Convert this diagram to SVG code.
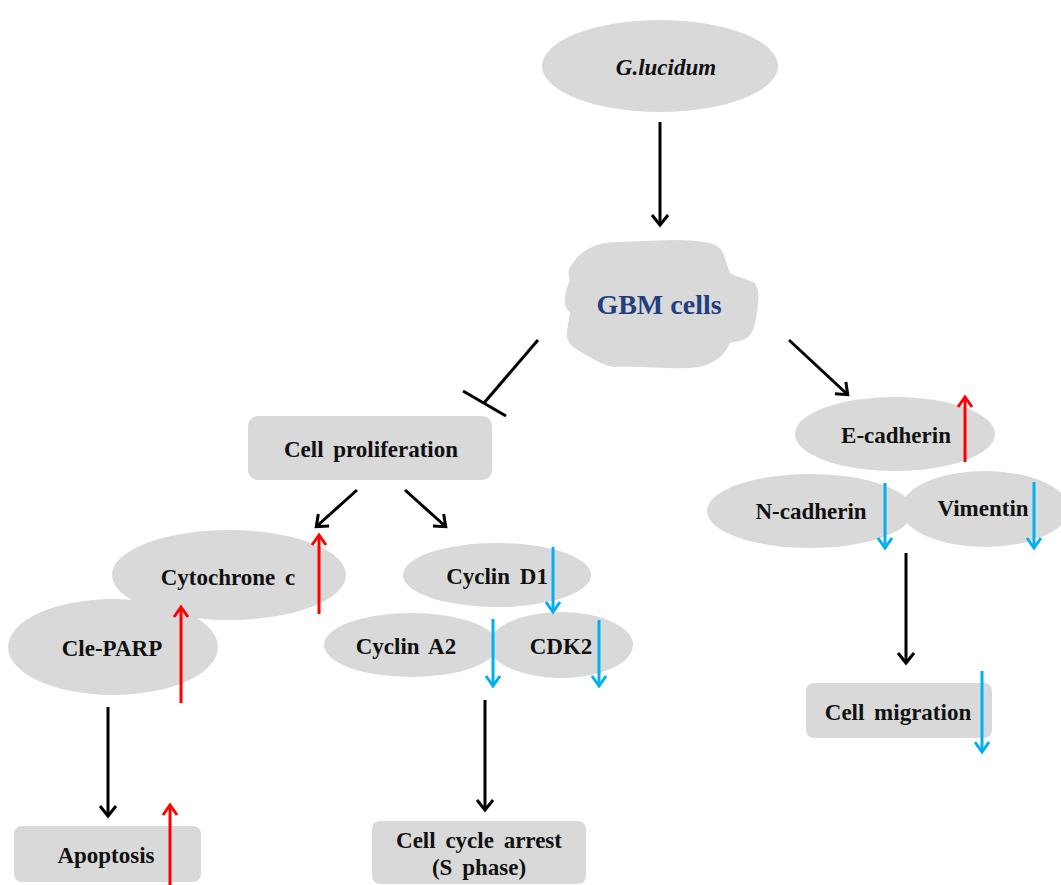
<svg xmlns="http://www.w3.org/2000/svg" width="1061" height="885" viewBox="0 0 1061 885">
<style>
.sh{fill:#d9d9d9;stroke:none}
.t{font-family:"Liberation Serif","Times New Roman",serif;font-weight:bold;font-size:23px;fill:#111;text-anchor:middle;word-spacing:4px}
.blk{stroke:#000;stroke-width:3;fill:none;marker-end:url(#mk)}
.red{stroke:#ff0000;stroke-width:3;fill:none;marker-end:url(#mr)}
.blu{stroke:#00b0f0;stroke-width:3;fill:none;marker-end:url(#mb)}
</style>
<defs>
<marker id="mk" markerWidth="12" markerHeight="12" refX="9" refY="6" orient="auto" markerUnits="userSpaceOnUse" overflow="visible"><path d="M0,-2 L10,6 L0,14" fill="none" stroke="#000" stroke-width="3"/></marker>
<marker id="mr" markerWidth="12" markerHeight="12" refX="9" refY="6" orient="auto" markerUnits="userSpaceOnUse" overflow="visible"><path d="M0,-1 L10,6 L0,13" fill="none" stroke="#ff0000" stroke-width="3"/></marker>
<marker id="mb" markerWidth="12" markerHeight="12" refX="9" refY="6" orient="auto" markerUnits="userSpaceOnUse" overflow="visible"><path d="M0,-1 L10,6 L0,13" fill="none" stroke="#00b0f0" stroke-width="3"/></marker>
</defs>
<rect width="1061" height="885" fill="#fff"/>

<g id="glucidum"><ellipse class="sh" cx="660" cy="66" rx="118" ry="46"/><text class="t" x="666" y="75" font-style="italic" font-size="26">G.lucidum</text></g>

<g id="gbm"><path class="sh" d="M573,263 Q580,252 590,248 Q602,242 617,242 L645,241 L673,240 Q695,240 710,243 Q720,246 723,253 Q726,262 730,273 Q735,276 740,277 L755,283 Q760,292 758,303 Q757,318 753,330 Q750,337 743,340 L730,343 Q726,352 720,357 Q712,364 700,367 Q684,369 667,368 L640,367 Q626,366 613,367 Q600,364 590,357 Q580,352 573,347 Q566,341 567,333 Q568,322 570,313 Q563,305 565,297 Q566,288 570,280 Q566,270 573,263 Z"/><text x="659" y="314" font-family="'Liberation Serif','Times New Roman',serif" font-weight="bold" font-size="28" fill="#1f3f7f" text-anchor="middle">GBM cells</text></g>

<g id="prolif"><rect class="sh" x="248" y="416" width="244" height="64" rx="10"/><text class="t" x="371" y="457">Cell proliferation</text></g>

<g id="cytc"><ellipse class="sh" cx="229" cy="575" rx="117" ry="45"/><text class="t" x="228" y="585">Cytochrone c</text></g>
<g id="parp"><ellipse class="sh" cx="113" cy="647" rx="105" ry="48"/><text class="t" x="112" y="656">Cle-PARP</text></g>
<g id="apop"><rect class="sh" x="14" y="826" width="187" height="56" rx="8"/><text class="t" x="106" y="863">Apoptosis</text></g>

<g id="cycd1"><ellipse class="sh" cx="497" cy="575" rx="94" ry="32"/><text class="t" x="497" y="584">Cyclin D1</text></g>
<g id="cyca2"><ellipse class="sh" cx="411" cy="645" rx="87" ry="32"/><text class="t" x="406" y="654">Cyclin A2</text></g>
<g id="cdk2"><ellipse class="sh" cx="561" cy="645" rx="72" ry="33"/><text class="t" x="561" y="654">CDK2</text></g>
<g id="arrest"><rect class="sh" x="372" y="821" width="214" height="63" rx="8"/><text class="t" x="479" y="848">Cell cycle arrest</text><text class="t" x="479" y="875">(S phase)</text></g>

<g id="ecad"><ellipse class="sh" cx="895" cy="434" rx="100" ry="37"/><text class="t" x="896" y="443">E-cadherin</text></g>
<g id="ncad"><ellipse class="sh" cx="810" cy="511" rx="103" ry="37"/><text class="t" x="811" y="519">N-cadherin</text></g>
<g id="vim"><ellipse class="sh" cx="985" cy="509" rx="84" ry="38"/><text class="t" x="983" y="516">Vimentin</text></g>
<g id="migr"><rect class="sh" x="806" y="683" width="186" height="55" rx="8"/><text class="t" x="898" y="720">Cell migration</text></g>

<g id="connectors">
<line class="blk" x1="660" y1="122" x2="660" y2="224"/>
<line x1="538" y1="340" x2="484" y2="403" stroke="#000" stroke-width="3"/>
<line x1="463" y1="391" x2="506" y2="416" stroke="#000" stroke-width="3"/>
<line class="blk" x1="357" y1="490" x2="317" y2="526"/>
<line class="blk" x1="405" y1="490" x2="445" y2="526"/>
<line class="blk" x1="789" y1="340" x2="847" y2="394"/>
<line class="blk" x1="108" y1="707" x2="108" y2="815"/>
<line class="blk" x1="485" y1="700" x2="485" y2="809"/>
<line class="blk" x1="906" y1="553" x2="906" y2="662"/>
<line class="red" x1="319" y1="614" x2="319" y2="536"/>
<line class="red" x1="181" y1="703" x2="181" y2="608"/>
<line class="red" x1="170" y1="885" x2="170" y2="806"/>
<line class="red" x1="965" y1="462" x2="965" y2="398"/>
<line class="blu" x1="553" y1="547" x2="553" y2="611"/>
<line class="blu" x1="493" y1="619" x2="493" y2="685"/>
<line class="blu" x1="599" y1="620" x2="599" y2="685"/>
<line class="blu" x1="885" y1="483" x2="885" y2="547"/>
<line class="blu" x1="1034" y1="482" x2="1034" y2="547"/>
<line class="blu" x1="982" y1="671" x2="982" y2="751"/>
</g>
</svg>
